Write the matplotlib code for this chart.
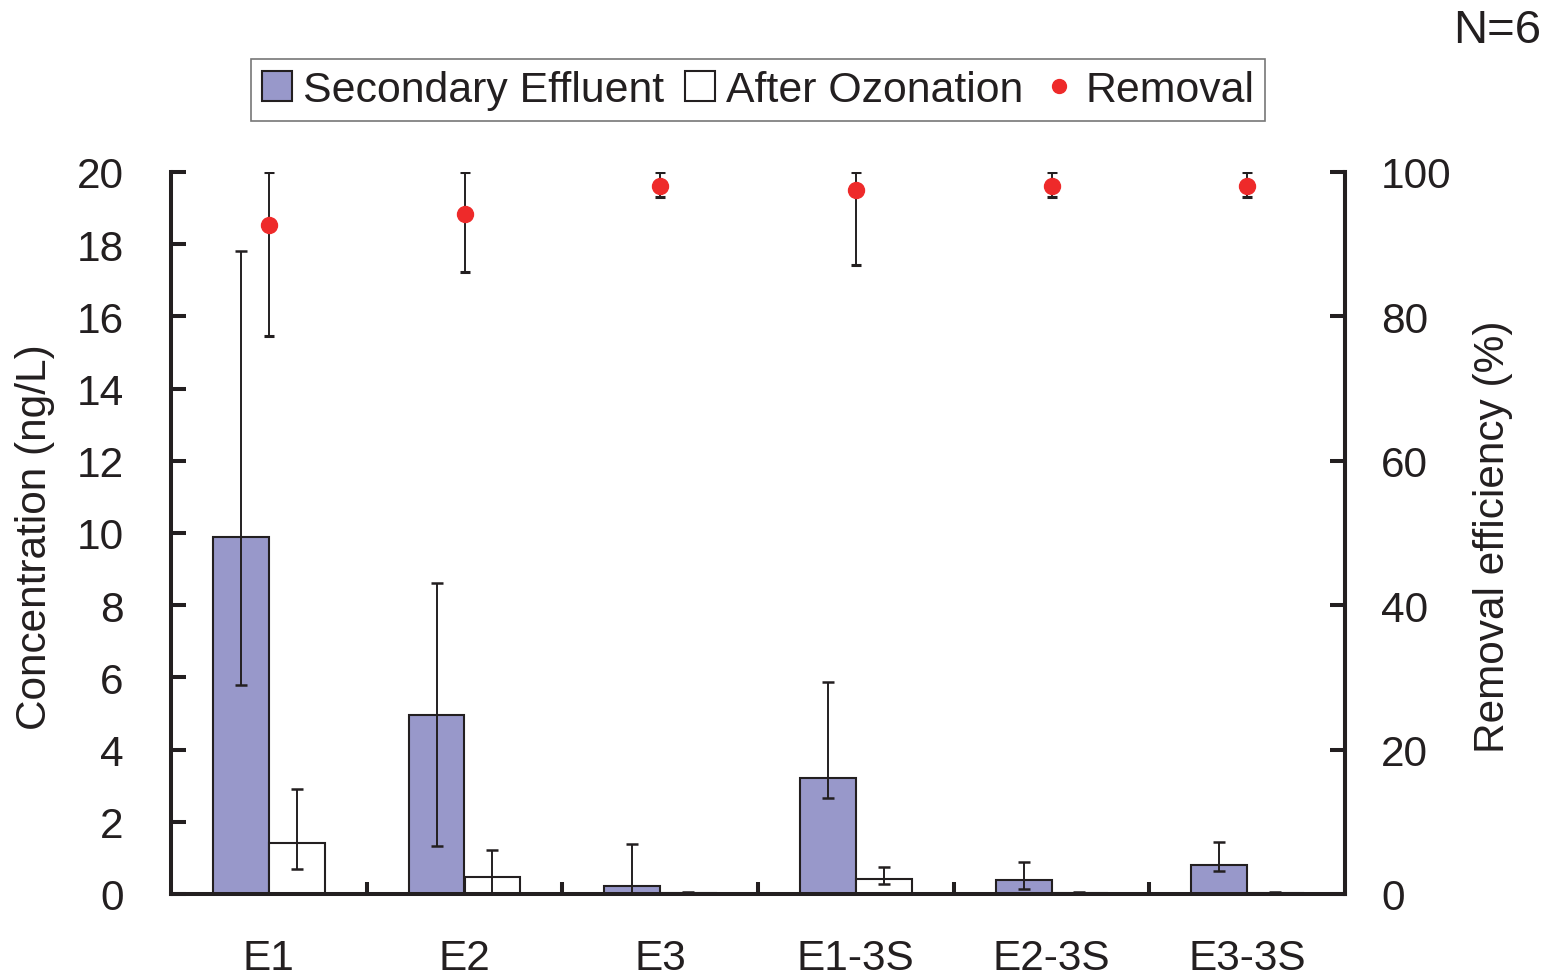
import numpy as np
import matplotlib
matplotlib.use("Agg")
import matplotlib.pyplot as plt
from matplotlib.lines import Line2D
from matplotlib.patches import Patch

plt.rcParams['font.family'] = ['Liberation Sans', 'DejaVu Sans']
plt.rcParams['text.color'] = '#231F20'
plt.rcParams['axes.labelcolor'] = '#231F20'

sites = ['E1', 'E2', 'E3', 'E1-3S', 'E2-3S', 'E3-3S']

# secondary effluent concentration (ng/L) with lower/upper error extents
se_mean = [9.9, 4.95, 0.22, 3.2, 0.38, 0.79]
se_err_dn = [4.1, 3.63, 0.22, 0.55, 0.24, 0.14]
se_err_up = [7.9, 3.67, 1.17, 2.66, 0.52, 0.65]

# after ozonation
ao_mean = [1.4, 0.46, 0.03, 0.41, 0.03, 0.03]
ao_err_dn = [0.71, 0.46, 0.0, 0.12, 0.0, 0.0]
ao_err_up = [1.5, 0.76, 0.02, 0.34, 0.02, 0.02]

# removal efficiency (%)
removal = [92.6, 94.2, 98.1, 97.5, 98.1, 98.1]
rem_err_dn = [15.3, 8.1, 1.5, 10.4, 1.5, 1.5]
rem_err_up = [7.4, 5.8, 1.9, 2.5, 1.9, 1.9]

purple = '#9898CA'
red = '#EE2A2A'
ink = '#231F20'
fs = 30.5

fig = plt.figure(figsize=(15.49, 9.78), dpi=100)
ax = fig.add_axes([171 / 1549, 1 - 895 / 978, 1174 / 1549, 722 / 978])

x = np.arange(len(sites))
w = 0.286
err_style = dict(ecolor=ink, elinewidth=1.4, capsize=4.5, capthick=1.8)

ax.bar(x - w / 2, se_mean, w, color=purple, edgecolor=ink, linewidth=1.5,
       yerr=[se_err_dn, se_err_up], error_kw=err_style, zorder=2)
ax.bar(x + w / 2, ao_mean, w, color='white', edgecolor=ink, linewidth=1.5,
       yerr=[ao_err_dn, ao_err_up], error_kw=err_style, zorder=2)

ax.set_xlim(-0.5, 5.5)
ax.set_ylim(0, 20)
ax.set_yticks(np.arange(0, 21, 2))
ax.set_xticks(x)
ax.set_xticklabels(sites)
ax.set_xticks(np.arange(0.5, 5, 1), minor=True)

for side in ['left', 'bottom', 'right']:
    ax.spines[side].set_linewidth(2.9)
    ax.spines[side].set_color(ink)
ax.spines['top'].set_visible(False)

ax.tick_params(axis='y', direction='in', length=11, width=2.9, colors=ink,
               labelsize=fs, pad=34)
ax.tick_params(axis='x', which='major', length=0, labelsize=fs, pad=32,
               colors=ink)
ax.tick_params(axis='x', which='minor', direction='in', length=9, width=2.9,
               colors=ink)

ax2 = ax.twinx()
ax2.errorbar(x, removal, yerr=[rem_err_dn, rem_err_up], fmt='o', color=red,
             markersize=11.5, ecolor=ink, elinewidth=1.4, capsize=3.5,
             capthick=2.2, zorder=3)
ax2.set_ylim(0, 100)
ax2.set_yticks(np.arange(0, 101, 20))
for side in ['top', 'left', 'bottom']:
    ax2.spines[side].set_visible(False)
ax2.spines['right'].set_linewidth(2.9)
ax2.spines['right'].set_color(ink)
ax2.tick_params(axis='y', direction='in', length=11, width=2.9, colors=ink,
                labelsize=fs, pad=26)

fig.text(35 / 1549, 1 - 537 / 978, 'Concentration (ng/L)', rotation=90,
         ha='center', va='center', fontsize=fs)
fig.text(1493 / 1549, 1 - 537 / 978, 'Removal efficiency (%)', rotation=90,
         ha='center', va='center', fontsize=fs)
fig.text(1541 / 1549, 1 - 31 / 978, 'N=6', ha='right', va='center', fontsize=34)

handles = [
    Patch(facecolor=purple, edgecolor=ink, linewidth=1.5, label='Secondary Effluent'),
    Patch(facecolor='white', edgecolor=ink, linewidth=1.5, label='After Ozonation'),
    Line2D([], [], marker='o', linestyle='None', color=red, markersize=10,
           label='Removal'),
]
leg = fig.legend(handles=handles, loc='center', ncol=3,
                 bbox_to_anchor=(758 / 1549, 1 - 91 / 978), fontsize=30.8,
                 frameon=True, fancybox=False, handlelength=0.7,
                 handleheight=0.7, handletextpad=0.25, columnspacing=0.5,
                 borderpad=0.25, borderaxespad=0)
leg.get_frame().set_edgecolor('#555555')
leg.get_frame().set_linewidth(1.2)

fig.savefig('out.png', dpi=100)
